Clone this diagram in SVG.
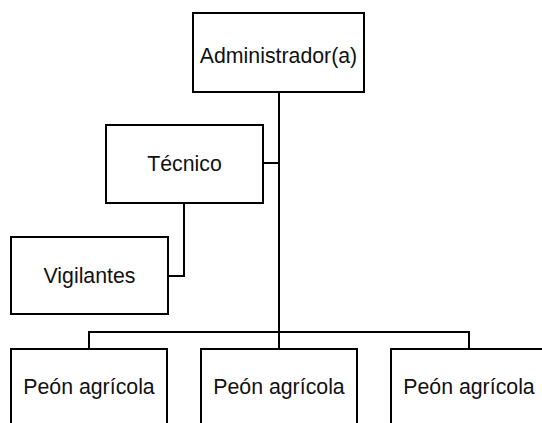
<svg xmlns="http://www.w3.org/2000/svg" width="542" height="423" viewBox="0 0 542 423">
<style>
.box{fill:#fff;stroke:#000;stroke-width:2}
.lbl{font-family:"Liberation Sans",Arial,sans-serif;font-size:21.3px;fill:#111;text-anchor:middle}
.con{fill:none;stroke:#000;stroke-width:2}
</style>
<rect width="542" height="423" fill="#fff"/>
<g id="connectors">
<path class="con" d="M279 92V332"/>
<path class="con" d="M263 163H279"/>
<path class="con" d="M184 203V276H168"/>
<path class="con" d="M89 349V332H469V349"/>
<path class="con" d="M279 332V349"/>
</g>
<g id="admin"><rect class="box" x="193" y="13" width="171" height="79"/><text class="lbl" x="278.5" y="63">Administrador(a)</text></g>
<g id="tecnico"><rect class="box" x="106" y="125" width="157" height="78"/><text class="lbl" x="184.5" y="171">Técnico</text></g>
<g id="vigilantes"><rect class="box" x="11" y="237" width="157" height="77"/><text class="lbl" x="89.5" y="283">Vigilantes</text></g>
<g id="peon1"><rect class="box" x="11" y="349" width="156" height="90"/><text class="lbl" x="89" y="394">Peón agrícola</text></g>
<g id="peon2"><rect class="box" x="201" y="349" width="156" height="90"/><text class="lbl" x="279" y="394">Peón agrícola</text></g>
<g id="peon3"><rect class="box" x="391" y="349" width="156" height="90"/><text class="lbl" x="469" y="394">Peón agrícola</text></g>
</svg>
